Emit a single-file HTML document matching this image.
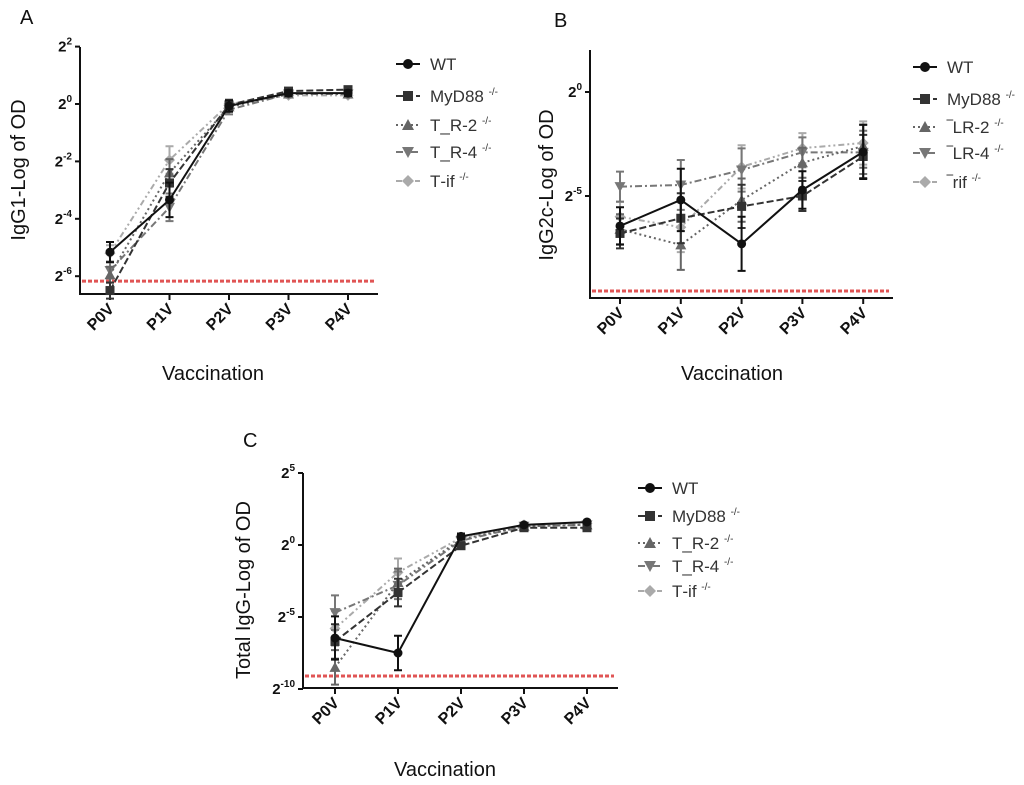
<!DOCTYPE html>
<html><head><meta charset="utf-8"><style>
html,body{margin:0;padding:0;background:#fff;}
svg{display:block;font-family:"Liberation Sans",sans-serif;}
</style></head><body>
<svg id="fig" width="1024" height="785" viewBox="0 0 1024 785"></svg>
<script>
const categories = ["P0V","P1V","P2V","P3V","P4V"];
const seriesNames = ["WT","MyD88","TLR-2","TLR-4","Trif"];
// Panel A (log2 exponent values)
const aWT    = [-5.16,-3.34,-0.07,0.38,0.38];
const aMyD88 = [-6.5,-2.75,-0.03,0.45,0.5];
const aTLR2  = [-5.95,-2.4,-0.1,0.35,0.35];
const aTLR4  = [-5.8,-3.6,-0.2,0.35,0.35];
const aTrif  = [-5.2,-1.95,0.0,0.3,0.3];
const aErr   = [0.35,0.6,0.2,0.1,0.1];
const aTicks = [2,0,-2,-4,-6];
const aCutoff = -6.17;
// Panel B
const bWT    = [-6.44,-5.19,-7.3,-4.71,-2.88];
const bMyD88 = [-6.8,-6.07,-5.5,-5.0,-3.1];
const bTLR2  = [-6.6,-7.35,-5.2,-3.4,-2.6];
const bTLR4  = [-4.55,-4.47,-3.75,-2.9,-2.9];
const bTrif  = [-6.0,-6.5,-3.6,-2.7,-2.45];
const bErr   = [0.9,1.5,1.3,0.9,1.3];
const bTicks = [0,-5];
const bCutoff = -9.57;
// Panel C
const cWT    = [-6.46,-7.5,0.6,1.4,1.6];
const cMyD88 = [-6.7,-3.3,-0.05,1.2,1.2];
const cTLR2  = [-8.5,-2.6,0.4,1.3,1.4];
const cTLR4  = [-4.7,-2.8,0.3,1.3,1.4];
const cTrif  = [-5.8,-1.9,0.5,1.4,1.5];
const cErr   = [1.5,1.2,0.2,0.1,0.1];
const cTicks = [5,0,-5,-10];
const cCutoff = -9.1;

const NS="http://www.w3.org/2000/svg";
const svg=document.getElementById('fig');
function mk(tag,attrs,parent){const e=document.createElementNS(NS,tag);for(const k in attrs)e.setAttribute(k,attrs[k]);(parent||svg).appendChild(e);return e;}
const styles=[
 {c:"#111",d:"",m:"circle"},
 {c:"#333",d:"7,3",m:"square"},
 {c:"#666",d:"2,3",m:"tri"},
 {c:"#777",d:"7,3,2,3",m:"tridown"},
 {c:"#aaa",d:"6,3,2,3,2,3",m:"diamond"}];
function marker(g,type,x,y,col,s){
 let e;
 if(type==="circle")e=mk('circle',{cx:x,cy:y,r:s},g);
 else if(type==="square")e=mk('rect',{x:x-s,y:y-s,width:2*s,height:2*s},g);
 else if(type==="tri")e=mk('polygon',{points:`${x},${y-s-1} ${x-s-1},${y+s} ${x+s+1},${y+s}`},g);
 else if(type==="tridown")e=mk('polygon',{points:`${x},${y+s+1} ${x-s-1},${y-s} ${x+s+1},${y-s}`},g);
 else e=mk('polygon',{points:`${x},${y-s-1} ${x+s+1},${y} ${x},${y+s+1} ${x-s-1},${y}`},g);
 e.setAttribute('fill',col);
 return e;
}
const legendLabels=[["WT",""],["MyD88 ","-/-"],["T_R-2 ","-/-"],["T_R-4 ","-/-"],["T‑if ","-/-"]];
const legendLabelsB=[["WT",""],["MyD88 ","-/-"],["\u203ELR-2 ","-/-"],["\u203ELR-4 ","-/-"],["\u203Erif ","-/-"]];

function panel(p){
 const g=mk('g',{});
 
 
 const ppu=p.ppu;
 const yS=v=>p.y0-(v-p.v0)*ppu;
 const xS=i=>p.cx0+i*p.cdx;
 const L=mk('text',{x:p.letter[0],y:p.letter[1],'font-size':20,fill:'#111'},g);L.textContent=p.letterText;
 
 const ax=mk('path',{d:`M${p.ax},${p.top}V${p.bottom}H${p.right}`,stroke:'#111','stroke-width':2,fill:'none'},g);
 
 p.ticks.forEach(t=>{
  const y=yS(t);
  mk('line',{x1:p.ax-5,x2:p.ax,y1:y,y2:y,stroke:'#111','stroke-width':2},g);
  const tx=mk('text',{x:p.ax-8,y:y+5,'text-anchor':'end','font-size':15,'font-weight':'bold',fill:'#111'},g);
  tx.innerHTML=`2<tspan dy="-7" font-size="10">${t}</tspan>`;
  
 });
 categories.forEach((c,i)=>{
  const x=xS(i);
  mk('line',{x1:x,x2:x,y1:p.bottom,y2:p.bottom+6,stroke:'#111','stroke-width':2},g);
  const t=mk('text',{x:x+5,y:p.bottom+16,'text-anchor':'end','font-size':16,'font-weight':'bold',fill:'#111',transform:`rotate(-45 ${x+5} ${p.bottom+16})`},g);
  t.textContent=c;
  
 });
 const cy=yS(p.cutoff);
 const cl=mk('line',{x1:p.ax+2,x2:p.right-4,y1:cy,y2:cy,stroke:'#e05555','stroke-width':3,'stroke-dasharray':'4,2'},g);
 
 for(let s=p.series.length-1;s>=0;s--){
  const st=styles[s],vals=p.series[s];
  const sg=mk('g',{},g);
  
  
  vals.forEach((v,i)=>{
   const e=p.err[i]*(s===0?1:0.8);
   const x=xS(i);
   mk('path',{d:`M${x},${yS(v+e)}V${yS(v-e)}M${x-4},${yS(v+e)}h8M${x-4},${yS(v-e)}h8`,stroke:st.c,'stroke-width':2,fill:'none'},sg);
  });
  const pts=vals.map((v,i)=>`${xS(i)},${yS(v)}`).join(' ');
  mk('polyline',{points:pts,fill:'none',stroke:st.c,'stroke-width':2,'stroke-dasharray':st.d},sg);
  vals.forEach((v,i)=>{
   const m=marker(sg,st.m,xS(i),yS(v),st.c,4.5);
   
   
  });
 }
 const yt=mk('text',{x:0,y:0,'font-size':20,'text-anchor':'middle',fill:'#111',transform:`translate(${p.ytitle[0]},${p.ytitle[1]}) rotate(-90)`},g);
 yt.textContent=p.ytitleText;
 
 const xt=mk('text',{x:p.xtitle[0],y:p.xtitle[1],'font-size':20,'text-anchor':'middle',fill:'#111'},g);
 xt.textContent="Vaccination";
 
 p.legendRows.forEach((ry,s)=>{
  const st=styles[s];
  const lg=mk('g',{},g);
  
  
  mk('line',{x1:p.legX-12,x2:p.legX+12,y1:ry,y2:ry,stroke:st.c,'stroke-width':2,'stroke-dasharray':st.d},lg);
  marker(lg,st.m,p.legX,ry,st.c,5);
  const t=mk('text',{x:p.legX+22,y:ry+6,'font-size':17,fill:'#333'},lg);
  const lab=p.labels[s];
  t.innerHTML=lab[0]+(lab[1]?`<tspan dy="-7" font-size="10">${lab[1]}</tspan>`:'');
 });
}
panel({name:'panel-a-igg1',letterText:'A',letter:[20,24],ax:80,top:47,bottom:294,right:378,
 y0:104,v0:0,ppu:28.7,cx0:110,cdx:59.5,ticks:aTicks,cutoff:aCutoff,
 series:[aWT,aMyD88,aTLR2,aTLR4,aTrif],err:aErr,ytitle:[25,170],ytitleText:'IgG1-Log of OD',
 xtitle:[213,380],legX:408,legendRows:[64,96,125,152,181],labels:legendLabels});
panel({name:'panel-b-igg2c',letterText:'B',letter:[554,27],ax:590,top:50,bottom:298,right:893,
 y0:92,v0:0,ppu:20.8,cx0:620,cdx:60.8,ticks:bTicks,cutoff:bCutoff,
 series:[bWT,bMyD88,bTLR2,bTLR4,bTrif],err:bErr,ytitle:[553,185],ytitleText:'IgG2c-Log of OD',
 xtitle:[732,380],legX:925,legendRows:[67,99,127,153,182],labels:legendLabelsB});
panel({name:'panel-c-total-igg',letterText:'C',letter:[243,447],ax:303,top:473,bottom:688,right:618,
 y0:545,v0:0,ppu:14.4,cx0:335,cdx:63,ticks:cTicks,cutoff:cCutoff,
 series:[cWT,cMyD88,cTLR2,cTLR4,cTrif],err:cErr,ytitle:[250,590],ytitleText:'Total IgG-Log of OD',
 xtitle:[445,776],legX:650,legendRows:[488,516,543,566,591],labels:legendLabels});
</script>
</body></html>
